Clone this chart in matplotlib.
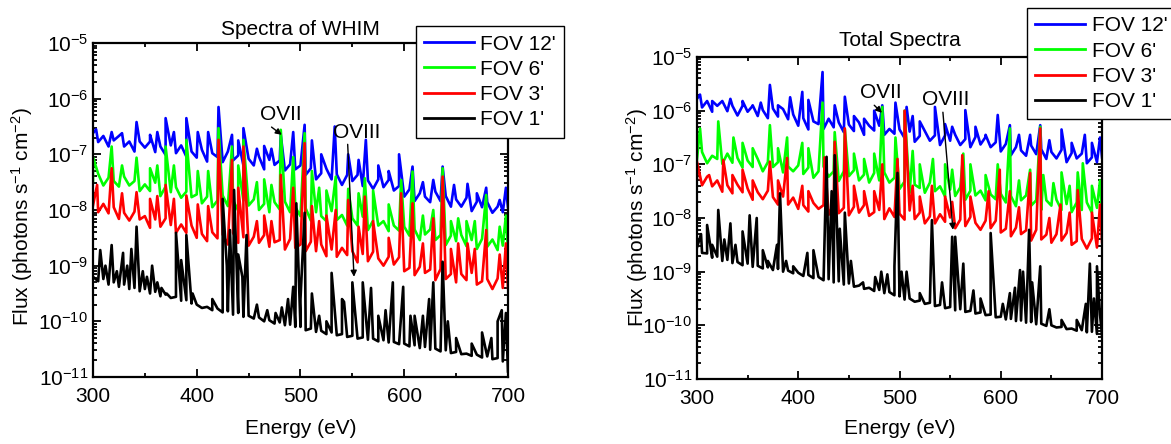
import numpy as np
import matplotlib
matplotlib.use("Agg")
import matplotlib.pyplot as plt
from matplotlib.ticker import LogLocator, MultipleLocator, NullFormatter

# energy grid of the continuum (eV)
energy = np.arange(300, 701, 5)

labels = ["FOV 12'", "FOV 6'", "FOV 3'", "FOV 1'"]
colors = ["#0000ff", "#00ff00", "#ff0000", "#000000"]

# ---- spectra of WHIM: log10 flux on the grid ----
whim_fov12 = [-6.62, -6.78, -6.67, -6.86, -6.75, -6.67, -6.86, -6.77, -6.95, -6.77, -6.88, -6.77, -6.96, -6.86, -7.01, -6.84, -6.98, -6.84, -7.04, -6.95,
              -7.06, -6.92, -7.13, -6.98, -7.05, -7.14, -6.95, -7.11, -7.02, -7.20, -7.08, -7.20, -7.04, -7.27, -7.10, -7.19, -7.11, -7.29, -7.18, -7.27,
              -7.20, -7.37, -7.25, -7.45, -7.34, -7.26, -7.45, -7.36, -7.55, -7.37, -7.48, -7.37, -7.57, -7.47, -7.62, -7.45, -7.59, -7.46, -7.65, -7.57,
              -7.76, -7.63, -7.84, -7.70, -7.76, -7.86, -7.67, -7.84, -7.75, -7.94, -7.81, -7.94, -7.78, -8.02, -7.85, -7.95, -7.86, -8.05, -7.94, -8.04, -7.95]
whim_fov6 = [-7.48, -7.35, -7.56, -7.42, -7.48, -7.58, -7.40, -7.56, -7.48, -7.66, -7.54, -7.66, -7.51, -7.75, -7.58, -7.68, -7.59, -7.78, -7.67, -7.77,
             -7.72, -7.88, -7.76, -7.95, -7.83, -7.74, -7.93, -7.83, -8.01, -7.83, -7.92, -7.81, -8.00, -7.89, -8.04, -7.86, -7.99, -7.85, -8.04, -7.95,
             -8.11, -7.97, -8.19, -8.04, -8.11, -8.20, -8.02, -8.18, -8.09, -8.28, -8.15, -8.28, -8.12, -8.36, -8.19, -8.28, -8.20, -8.38, -8.28, -8.37,
             -8.30, -8.46, -8.35, -8.54, -8.44, -8.35, -8.54, -8.45, -8.63, -8.46, -8.56, -8.45, -8.65, -8.54, -8.70, -8.52, -8.66, -8.53, -8.72, -8.64, -8.72]
whim_fov3 = [-7.92, -8.04, -7.89, -8.06, -7.95, -8.16, -8.05, -8.19, -8.03, -8.17, -8.11, -8.32, -8.17, -8.30, -8.15, -8.27, -8.41, -8.26, -8.41, -8.28,
             -8.50, -8.43, -8.56, -8.40, -8.51, -8.44, -8.62, -8.41, -8.59, -8.49, -8.64, -8.48, -8.59, -8.45, -8.66, -8.58, -8.54, -8.71, -8.52, -8.68,
             -8.62, -8.74, -8.57, -8.74, -8.62, -8.83, -8.71, -8.84, -8.68, -8.81, -8.74, -8.94, -8.79, -8.92, -8.75, -8.87, -9.00, -8.84, -8.98, -8.85,
             -9.10, -9.04, -9.17, -9.02, -9.13, -9.07, -9.26, -9.06, -9.24, -9.15, -9.30, -9.15, -9.26, -9.13, -9.34, -9.28, -9.24, -9.42, -9.23, -9.40, -9.40]
whim_fov1 = [-9.20, -9.28, -9.24, -9.34, -9.30, -9.38, -9.34, -9.42, -9.40, -9.46, -9.42, -9.50, -9.47, -9.55, -9.52, -9.58, -9.56, -9.63, -9.62, -9.68,
             -9.70, -9.76, -9.74, -9.80, -9.77, -9.84, -9.82, -9.88, -9.85, -9.92, -9.90, -9.95, -9.93, -10.00, -9.98, -10.04, -10.02, -10.07, -10.06, -10.10,
             -10.10, -10.16, -10.13, -10.19, -10.17, -10.23, -10.20, -10.25, -10.23, -10.28, -10.26, -10.31, -10.29, -10.33, -10.31, -10.36, -10.34, -10.38, -10.37, -10.41,
             -10.40, -10.45, -10.43, -10.48, -10.46, -10.51, -10.49, -10.54, -10.52, -10.57, -10.55, -10.59, -10.58, -10.62, -10.60, -10.65, -10.63, -10.68, -10.66, -10.72, -10.90]

# emission lines (energy eV, log10 peak flux)
whim_fov12_lines = [(303, -6.55), (318, -6.6), (328, -6.62), (342, -6.42), (355, -6.65), (362, -6.6), (370, -6.35), (378, -6.6),
                    (390, -6.35), (401, -6.6), (411, -6.6), (421, -6.15), (434, -6.65), (440, -6.75), (445, -6.53), (458, -6.9),
                    (465, -6.85), (472, -6.9), (481, -6.65), (493, -6.6), (504, -6.47), (511, -6.75), (520, -7.0), (533, -6.5),
                    (546, -7.0), (556, -7.1), (563, -6.74), (575, -7.2), (585, -7.3), (595, -7.0), (608, -7.22), (618, -7.5),
                    (628, -7.46), (637, -7.22), (648, -7.55), (661, -7.53), (670, -7.7), (679, -7.6), (692, -7.82), (698, -7.6)]
whim_fov6_lines = [(300, -7.05), (318, -6.86), (328, -7.2), (342, -7.06), (355, -7.25), (362, -7.2), (370, -6.86), (378, -7.2),
                   (390, -6.74), (401, -7.3), (411, -7.3), (421, -6.53), (434, -6.86), (440, -7.2), (445, -6.74), (458, -7.5),
                   (465, -7.45), (472, -7.55), (481, -6.56), (493, -7.05), (504, -6.62), (511, -7.3), (518, -7.6), (525, -7.65),
                   (534, -7.4), (546, -7.62), (556, -7.7), (562, -7.43), (570, -7.65), (585, -7.9), (597, -7.46), (608, -7.31),
                   (618, -8.1), (628, -8.0), (637, -7.25), (645, -8.2), (652, -8.15), (660, -8.2), (668, -8.2), (679, -7.73),
                   (692, -8.3), (698, -8.1)]
whim_fov3_lines = [(304, -7.55), (318, -7.25), (328, -7.7), (342, -7.68), (355, -7.8), (362, -7.75), (370, -7.55), (378, -7.8),
                   (390, -7.74), (401, -7.9), (411, -7.93), (421, -6.74), (434, -7.1), (440, -7.6), (445, -6.86), (458, -8.2),
                   (465, -8.1), (472, -8.2), (481, -7.37), (493, -7.6), (504, -6.8), (511, -7.93), (518, -8.2), (525, -8.1),
                   (534, -8.0), (546, -7.82), (556, -8.3), (562, -7.76), (570, -8.2), (585, -8.5), (597, -7.7), (608, -7.88),
                   (618, -8.6), (628, -8.15), (637, -7.4), (645, -8.7), (652, -8.6), (661, -8.6), (668, -8.7), (679, -8.36),
                   (692, -8.8), (698, -8.6)]
whim_fov1_lines = [(307, -8.72), (312, -9.0), (318, -8.63), (323, -9.1), (329, -8.77), (333, -9.0), (337, -8.7), (342, -8.3),
                   (348, -9.1), (352, -9.2), (357, -9.0), (362, -9.3), (366, -9.4), (371, -9.5), (380, -8.41), (385, -8.9),
                   (390, -8.45), (396, -9.5), (415, -9.6), (425, -7.8), (429, -9.0), (432, -8.36), (436, -7.64), (440, -8.8),
                   (444, -9.2), (448, -8.45), (458, -9.7), (468, -9.8), (476, -9.85), (482, -9.75), (488, -9.6), (493, -9.38),
                   (496, -7.88), (500, -9.6), (504, -8.05), (511, -9.5), (518, -9.9), (525, -10.0), (530, -9.13), (540, -9.6),
                   (542, -9.65), (550, -9.3), (560, -9.3), (568, -9.4), (575, -9.9), (582, -9.8), (589, -9.3), (599, -9.38),
                   (606, -9.9), (610, -9.9), (618, -9.9), (624, -9.6), (628, -9.3), (637, -8.93), (642, -10.0), (650, -10.3),
                   (665, -10.4), (675, -10.2), (684, -10.3), (690, -10.0), (694, -9.8), (698, -9.85)]

# ---- total spectra: log10 flux on the grid ----
total_fov12 = [-5.78, -5.94, -5.82, -6.02, -5.91, -5.82, -6.01, -5.91, -6.09, -5.91, -6.02, -5.91, -6.10, -5.99, -6.14, -5.96, -6.11, -5.97, -6.16, -6.07,
               -6.28, -6.14, -6.35, -6.20, -6.25, -6.34, -6.15, -6.31, -6.22, -6.40, -6.26, -6.38, -6.22, -6.45, -6.28, -6.37, -6.28, -6.45, -6.34, -6.43,
               -6.35, -6.51, -6.39, -6.58, -6.47, -6.38, -6.56, -6.46, -6.64, -6.46, -6.56, -6.45, -6.64, -6.53, -6.68, -6.49, -6.63, -6.49, -6.68, -6.59,
               -6.76, -6.62, -6.83, -6.68, -6.74, -6.84, -6.65, -6.81, -6.72, -6.90, -6.77, -6.89, -6.73, -6.96, -6.79, -6.89, -6.80, -6.98, -6.87, -6.96, -6.87]
total_fov6 = [-6.91, -6.77, -6.98, -6.84, -6.90, -6.99, -6.80, -6.97, -6.88, -7.06, -6.93, -7.05, -6.90, -7.13, -6.96, -7.05, -6.96, -7.15, -7.04, -7.13,
              -7.02, -7.18, -7.06, -7.25, -7.13, -7.04, -7.23, -7.13, -7.31, -7.13, -7.22, -7.11, -7.30, -7.19, -7.34, -7.16, -7.30, -7.15, -7.34, -7.25,
              -7.46, -7.32, -7.53, -7.38, -7.44, -7.53, -7.34, -7.50, -7.41, -7.60, -7.47, -7.59, -7.43, -7.66, -7.49, -7.58, -7.49, -7.67, -7.56, -7.65,
              -7.55, -7.71, -7.59, -7.78, -7.67, -7.58, -7.77, -7.67, -7.85, -7.67, -7.77, -7.66, -7.85, -7.74, -7.89, -7.71, -7.85, -7.71, -7.90, -7.81, -7.90]
total_fov3 = [-7.27, -7.39, -7.23, -7.41, -7.30, -7.51, -7.39, -7.54, -7.38, -7.52, -7.45, -7.66, -7.52, -7.65, -7.49, -7.61, -7.75, -7.60, -7.75, -7.62,
              -7.83, -7.76, -7.88, -7.72, -7.83, -7.76, -7.94, -7.73, -7.91, -7.81, -7.95, -7.79, -7.90, -7.76, -7.96, -7.89, -7.85, -8.02, -7.82, -7.98,
              -7.92, -8.03, -7.86, -8.02, -7.90, -8.10, -7.97, -8.10, -7.93, -8.07, -7.99, -8.19, -8.03, -8.15, -7.98, -8.09, -8.22, -8.05, -8.19, -8.05,
              -8.27, -8.20, -8.34, -8.18, -8.30, -8.23, -8.42, -8.22, -8.40, -8.31, -8.46, -8.30, -8.42, -8.28, -8.50, -8.43, -8.39, -8.57, -8.38, -8.55, -8.45]
total_fov1 = [-8.55, -8.65, -8.66, -8.74, -8.72, -8.80, -8.78, -8.84, -8.82, -8.88, -8.85, -8.91, -8.89, -8.94, -8.92, -8.97, -8.95, -9.00, -8.98, -9.03,
              -9.02, -9.08, -9.06, -9.12, -9.10, -9.16, -9.14, -9.20, -9.18, -9.24, -9.22, -9.28, -9.26, -9.32, -9.30, -9.36, -9.34, -9.40, -9.38, -9.44,
              -9.46, -9.52, -9.50, -9.56, -9.54, -9.60, -9.58, -9.64, -9.62, -9.68, -9.66, -9.72, -9.70, -9.75, -9.73, -9.78, -9.76, -9.81, -9.80, -9.85,
              -9.84, -9.89, -9.88, -9.92, -9.91, -9.95, -9.94, -9.98, -9.97, -10.01, -10.00, -10.04, -10.03, -10.07, -10.06, -10.10, -10.09, -10.13, -10.12, -10.16, -10.18]

total_fov12_lines = [(303, -5.7), (315, -5.82), (333, -5.78), (345, -5.82), (355, -5.9), (363, -5.85), (372, -5.52), (380, -5.9),
                     (392, -5.75), (404, -5.65), (410, -5.8), (424, -5.28), (436, -5.9), (446, -5.74), (455, -6.1), (465, -6.15),
                     (475, -6.0), (483, -5.9), (496, -5.85), (507, -5.93), (513, -6.1), (520, -6.2), (535, -5.93), (545, -6.25),
                     (552, -6.3), (565, -5.99), (575, -6.3), (585, -6.45), (597, -6.08), (609, -6.27), (618, -6.45), (629, -6.45),
                     (639, -6.27), (648, -6.55), (660, -6.35), (670, -6.6), (683, -6.45), (690, -6.6), (698, -6.5)]
total_fov6_lines = [(303, -6.33), (321, -6.2), (336, -6.5), (345, -6.6), (355, -6.7), (372, -6.27), (380, -6.7), (389, -6.5),
                    (404, -6.6), (410, -6.7), (424, -5.85), (436, -6.4), (446, -6.35), (455, -6.8), (465, -6.9), (475, -6.8),
                    (483, -5.93), (496, -6.5), (505, -6.0), (513, -6.75), (520, -7.0), (533, -6.9), (545, -7.0), (552, -7.1),
                    (563, -6.8), (570, -7.0), (585, -7.2), (597, -7.0), (609, -6.33), (618, -7.3), (629, -7.1), (639, -6.3),
                    (642, -7.2), (652, -7.35), (660, -7.15), (668, -7.4), (676, -7.15), (681, -6.98), (690, -7.4), (698, -7.3)]
total_fov3_lines = [(300, -6.95), (312, -7.2), (326, -6.92), (335, -7.2), (345, -7.1), (355, -7.3), (372, -6.95), (380, -7.3),
                    (389, -6.88), (404, -7.4), (410, -7.5), (426, -6.87), (436, -6.58), (446, -6.33), (455, -7.4), (465, -7.5),
                    (475, -7.5), (483, -7.0), (498, -6.9), (505, -6.0), (513, -7.4), (520, -7.6), (532, -7.4), (545, -7.6),
                    (552, -7.7), (562, -6.83), (570, -7.6), (588, -7.5), (599, -7.1), (609, -7.5), (618, -7.8), (629, -7.16),
                    (639, -6.33), (648, -8.0), (659, -7.75), (668, -7.9), (676, -7.48), (690, -7.9), (698, -7.75)]
total_fov1_lines = [(304, -8.3), (310, -8.13), (315, -8.5), (321, -7.85), (327, -8.4), (333, -8.1), (338, -8.5), (345, -8.25),
                    (352, -7.95), (359, -8.0), (365, -8.6), (370, -8.8), (379, -8.5), (382, -7.54), (388, -8.8), (395, -8.9),
                    (409, -8.65), (415, -8.6), (428, -6.86), (433, -7.5), (436, -6.83), (441, -8.2), (446, -7.9), (452, -8.8),
                    (464, -9.2), (476, -9.1), (482, -9.0), (488, -9.05), (495, -8.9), (498, -7.16), (502, -9.0), (507, -9.0),
                    (520, -9.4), (532, -8.04), (542, -9.2), (552, -8.35), (555, -8.35), (563, -8.85), (573, -9.35), (580, -9.5),
                    (590, -8.28), (602, -9.6), (609, -9.4), (614, -9.3), (619, -8.97), (622, -9.0), (628, -8.22), (631, -9.2),
                    (639, -8.9), (648, -9.7), (660, -9.9), (675, -9.9), (684, -9.6), (688, -8.85), (692, -9.5), (695, -8.9),
                    (698, -9.8)]

plt.rcParams["font.family"] = "Liberation Sans"
plt.rcParams["font.size"] = 15
plt.rcParams["mathtext.fontset"] = "custom"
plt.rcParams["mathtext.rm"] = "Liberation Sans"
plt.rcParams["mathtext.default"] = "regular"
plt.rcParams["axes.unicode_minus"] = False


def draw(ax, cont, lines, color, label):
    # continuum points and line peaks merged into one trace
    e = np.concatenate([energy, [l[0] for l in lines]])
    f = np.concatenate([cont, [l[1] for l in lines]])
    order = np.argsort(e, kind="stable")
    ax.plot(e[order], 10.0 ** f[order], color=color, lw=1.9, label=label)


def style(ax):
    ax.set_yscale("log")
    ax.set_xlim(300, 700)
    ax.set_ylim(1e-11, 1e-5)
    ax.xaxis.set_major_locator(MultipleLocator(100))
    ax.xaxis.set_minor_locator(MultipleLocator(50))
    ax.yaxis.set_major_locator(LogLocator(base=10, numticks=10))
    ax.yaxis.set_minor_locator(LogLocator(base=10, subs=np.arange(2, 10), numticks=20))
    ax.yaxis.set_minor_formatter(NullFormatter())
    ax.tick_params(which="both", direction="in", top=True, right=True, width=1.3)
    ax.tick_params(which="major", length=6)
    ax.tick_params(which="minor", length=3)
    ax.tick_params(axis="x", pad=7)
    for s in ax.spines.values():
        s.set_linewidth(1.6)
    ax.set_xlabel("Energy (eV)")
    ax.set_ylabel("Flux (photons s$^{-1}$ cm$^{-2}$)")


fig = plt.figure(figsize=(11.71, 4.44), dpi=100)
ax1 = fig.add_axes([0.0794, 0.1509, 0.3544, 0.7523])
ax2 = fig.add_axes([0.5952, 0.1464, 0.3459, 0.7252])

whim = [(whim_fov12, whim_fov12_lines), (whim_fov6, whim_fov6_lines),
        (whim_fov3, whim_fov3_lines), (whim_fov1, whim_fov1_lines)]
total = [(total_fov12, total_fov12_lines), (total_fov6, total_fov6_lines),
         (total_fov3, total_fov3_lines), (total_fov1, total_fov1_lines)]

for (c, l), col, lab in zip(whim, colors, labels):
    draw(ax1, c, l, col, lab)
for (c, l), col, lab in zip(total, colors, labels):
    draw(ax2, c, l, col, lab)

style(ax1)
style(ax2)
ax1.set_title("Spectra of WHIM", fontsize=15, pad=6)
ax2.set_title("Total Spectra", fontsize=15, pad=8)
ax1.yaxis.set_label_coords(-0.14, 0.48)
ax2.yaxis.set_label_coords(-0.116, 0.5)
ax1.xaxis.set_label_coords(0.5, -0.125)
ax2.xaxis.set_label_coords(0.5, -0.123)

# line markers
arrow = dict(arrowstyle="-|>", color="k", lw=1.0, mutation_scale=9, shrinkA=0, shrinkB=0)
ax1.annotate("OVII", xy=(482, 10**-6.65), xytext=(481, 10**-6.29), ha="center", va="center",
             fontsize=15, arrowprops=dict(arrow, relpos=(0.19, 0.0)))
ax1.annotate("OVIII", xy=(551.6, 10**-9.2), xytext=(554.5, 10**-6.6), ha="center", va="center",
             fontsize=15, arrowprops=dict(arrow, relpos=(0.3, 0.0)))
ax2.annotate("OVII", xy=(482.7, 10**-6.04), xytext=(481.7, 10**-5.67), ha="center", va="center",
             fontsize=15, arrowprops=dict(arrow, relpos=(0.27, 0.0)))
ax2.annotate("OVIII", xy=(552.8, 10**-8.22), xytext=(545.9, 10**-5.8), ha="center", va="center",
             fontsize=15, arrowprops=dict(arrow, relpos=(0.43, 0.0)))

for ax, anchor in [(ax1, (0.355, 0.941)), (ax2, (0.877, 0.982))]:
    leg = ax.legend(loc="upper left", bbox_to_anchor=anchor, bbox_transform=fig.transFigure,
                    fontsize=15, fancybox=False, edgecolor="black", framealpha=1,
                    borderaxespad=0, borderpad=0.4, labelspacing=0.3,
                    handlelength=2.4, handletextpad=0.3)
    leg.get_frame().set_linewidth(1.0)
    for h in leg.get_lines():
        h.set_linewidth(2.0)

fig.savefig("out.png", dpi=100)
